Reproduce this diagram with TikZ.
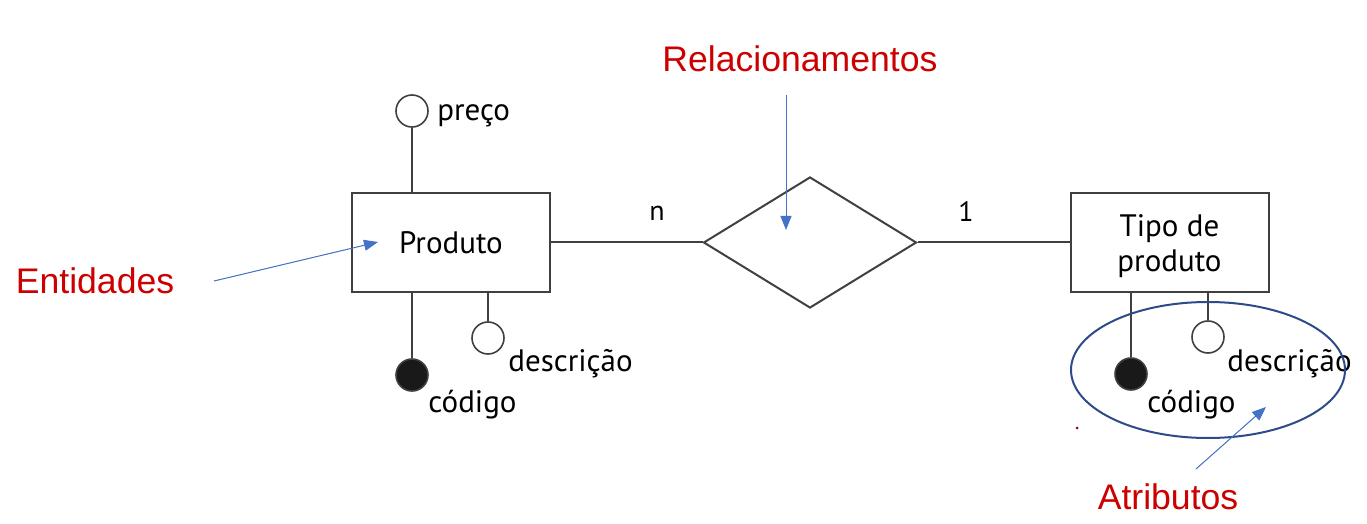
\documentclass[tikz,border=0pt]{standalone}
\usepackage{fontspec}
\setmainfont{PT Sans}
\newfontfamily\notefont{Liberation Sans}
\usetikzlibrary{arrows.meta,positioning,shapes.geometric}
\definecolor{linec}{HTML}{404040}
\definecolor{notec}{HTML}{CC0000}
\definecolor{pointc}{HTML}{4472C4}
\definecolor{ringc}{HTML}{2F4A8A}
\tikzset{
  entity/.style  ={draw=linec,line width=1pt,fill=white,minimum width=99pt,
                   minimum height=49.5pt,align=center,
                   font=\fontsize{15.5}{17.5}\selectfont},
  relation/.style={diamond,draw=linec,line width=1pt,minimum width=106.5pt,
                   minimum height=65.5pt,inner sep=0pt},
  attr/.style    ={circle,draw=linec,line width=0.8pt,fill=white,
                   minimum size=16pt,inner sep=0pt},
  keyattr/.style ={attr,fill=black!90},
  attrname/.style={anchor=base west,inner sep=0pt,font=\fontsize{15.5}{17}\selectfont},
  card/.style    ={inner sep=0pt,font=\fontsize{14}{16}\selectfont},
  link/.style    ={draw=linec,line width=1pt},
  note/.style    ={text=notec,inner sep=0pt,font=\notefont\fontsize{17.8}{20}\selectfont},
  pointer/.style ={-{Triangle[length=7pt,width=5.5pt]},draw=pointc,fill=pointc,line width=0.5pt},
}

\begin{document}
\begin{tikzpicture}[x=0.5pt,y=-0.5pt]
    \useasboundingbox (0,0) rectangle (1367,524);

    % entities and relationship
    \node[entity] (prod) at (451,242.5) {Produto};
    \node[relation] (rel) at (810,242.5) {};
    \node[entity,label={[align=center,font=\fontsize{15.5}{17.5}\selectfont,
          yshift=-2pt]center:Tipo de\\produto}] (tipo) at (1169.5,242.5) {};
    \draw[link] (prod.east) -- (rel.west);
    \draw[link] (rel.east) -- (tipo.west);
    \node[card] (cn) at (657,213) {n};
    \node[card] (c1) at (966,212) {1};

    % attributes of Produto
    \node[attr]    (preco) at (412,111) {};
    \node[keyattr] (pcod)  at (412,375) {};
    \node[attr]    (pdesc) at (488,338) {};
    \draw[link] (preco) -- (preco |- prod.north);
    \draw[link] (pcod)  -- (pcod |- prod.south);
    \draw[link] (pdesc) -- (pdesc |- prod.south);
    \node[attrname] (lpreco) at (437,121) {preço};
    \node[attrname] (lpdesc) at (508,371) {descrição};
    \node[attrname] (lpcod)  at (428,412) {código};

    % attributes of Tipo de produto
    \node[keyattr] (tcod)  at (1131,374) {};
    \node[attr]    (tdesc) at (1208,337) {};
    \draw[link] (tcod)  -- (tcod |- tipo.south);
    \draw[link] (tdesc) -- (tdesc |- tipo.south);
    \node[attrname] (ltdesc) at (1227,371) {descrição};
    \node[attrname] (ltcod)  at (1147,412) {código};

    % highlight ring
    \node[ellipse,draw=ringc,line width=1pt,minimum width=137pt,
          minimum height=68pt,inner sep=0pt] (grp) at (1208,370) {};
    \fill[notec!70!black] (1077,428) circle [radius=1.5];

    % notes
    \node[note] (nent) at (95,281) {Entidades};
    \node[note] (nrel) at (800,59) {Relacionamentos};
    \node[note] (natr) at (1168,497) {Atributos};
    \coordinate (tent) at (214,281);
    \coordinate (hent) at (378,242);
    \coordinate (trel) at (786,95);
    \coordinate (hrel) at (786,230);
    \coordinate (tatr) at (1196,469);
    \coordinate (hatr) at (1266,407);
    \draw[pointer] (tent) -- (hent);
    \draw[pointer] (trel) -- (hrel);
    \draw[pointer] (tatr) -- (hatr);
\end{tikzpicture}
\end{document}
